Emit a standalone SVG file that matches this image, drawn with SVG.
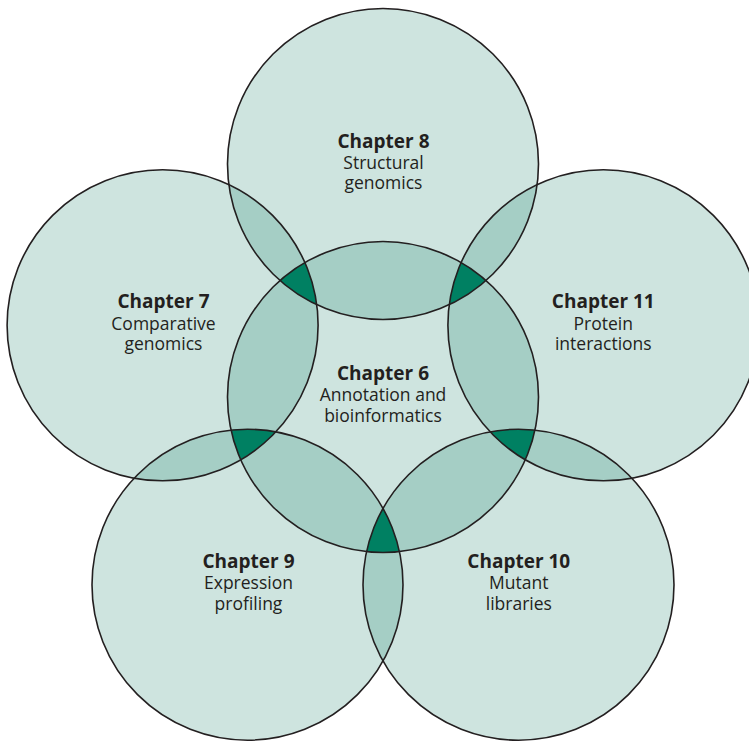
<svg xmlns="http://www.w3.org/2000/svg" xmlns:xlink="http://www.w3.org/1999/xlink" width="749" height="741" viewBox="0 0 749 741">
<style>
.base{fill:#cee4df;stroke:none}
.pair{fill:#a5cec5;stroke:none}
.tri{fill:#008062;stroke:none}
.ring{fill:none;stroke:#231f20;stroke-width:1.6}
text{font-family:"Open Sans","Noto Sans","Liberation Sans",sans-serif;font-size:17.5px;fill:#231f20;text-anchor:middle}
.t{font-weight:bold;font-size:19px}
</style>
<defs>
<circle id="c6" cx="383" cy="397" r="155.5"/>
<circle id="c7" cx="162.6" cy="325.3" r="155.5"/>
<circle id="c8" cx="383" cy="164" r="155.5"/>
<circle id="c9" cx="247.5" cy="584.7" r="155.5"/>
<circle id="c10" cx="518.5" cy="584.7" r="155.5"/>
<circle id="c11" cx="603.4" cy="325.3" r="155.5"/>
<clipPath id="k6"><use xlink:href="#c6"/></clipPath>
<clipPath id="k7"><use xlink:href="#c7"/></clipPath>
<clipPath id="k8"><use xlink:href="#c8"/></clipPath>
<clipPath id="k9"><use xlink:href="#c9"/></clipPath>
<clipPath id="k10"><use xlink:href="#c10"/></clipPath>
<clipPath id="k11"><use xlink:href="#c11"/></clipPath>
</defs>
<rect width="749" height="741" fill="#ffffff"/>
<g id="fills">
<use xlink:href="#c6" class="base"/>
<use xlink:href="#c7" class="base"/>
<use xlink:href="#c8" class="base"/>
<use xlink:href="#c9" class="base"/>
<use xlink:href="#c10" class="base"/>
<use xlink:href="#c11" class="base"/>
</g>
<g id="overlaps">
<use xlink:href="#c7" class="pair" clip-path="url(#k6)"/>
<use xlink:href="#c8" class="pair" clip-path="url(#k6)"/>
<use xlink:href="#c9" class="pair" clip-path="url(#k6)"/>
<use xlink:href="#c10" class="pair" clip-path="url(#k6)"/>
<use xlink:href="#c11" class="pair" clip-path="url(#k6)"/>
<use xlink:href="#c7" class="pair" clip-path="url(#k8)"/>
<use xlink:href="#c7" class="pair" clip-path="url(#k9)"/>
<use xlink:href="#c9" class="pair" clip-path="url(#k10)"/>
<use xlink:href="#c10" class="pair" clip-path="url(#k11)"/>
<use xlink:href="#c11" class="pair" clip-path="url(#k8)"/>
<g clip-path="url(#k6)"><use xlink:href="#c7" class="tri" clip-path="url(#k8)"/></g>
<g clip-path="url(#k6)"><use xlink:href="#c7" class="tri" clip-path="url(#k9)"/></g>
<g clip-path="url(#k6)"><use xlink:href="#c9" class="tri" clip-path="url(#k10)"/></g>
<g clip-path="url(#k6)"><use xlink:href="#c10" class="tri" clip-path="url(#k11)"/></g>
<g clip-path="url(#k6)"><use xlink:href="#c11" class="tri" clip-path="url(#k8)"/></g>
</g>
<g id="outlines">
<use xlink:href="#c6" class="ring"/>
<use xlink:href="#c7" class="ring"/>
<use xlink:href="#c8" class="ring"/>
<use xlink:href="#c9" class="ring"/>
<use xlink:href="#c10" class="ring"/>
<use xlink:href="#c11" class="ring"/>
</g>
<g id="ch6"><text class="t" x="383" y="380">Chapter 6</text><text x="383" y="401">Annotation and</text><text x="383" y="422">bioinformatics</text></g>
<g id="ch7"><text class="t" x="163.5" y="308">Chapter 7</text><text x="163.5" y="329.5">Comparative</text><text x="163.5" y="350">genomics</text></g>
<g id="ch8"><text class="t" x="383.5" y="148">Chapter 8</text><text x="383.5" y="168.5">Structural</text><text x="383.5" y="189">genomics</text></g>
<g id="ch9"><text class="t" x="248.5" y="568">Chapter 9</text><text x="248.5" y="589">Expression</text><text x="248.5" y="610">profiling</text></g>
<g id="ch10"><text class="t" x="518.8" y="568">Chapter 10</text><text x="518.8" y="589">Mutant</text><text x="518.8" y="609.5">libraries</text></g>
<g id="ch11"><text class="t" x="603.3" y="308">Chapter 11</text><text x="603.3" y="329.5">Protein</text><text x="603.3" y="350">interactions</text></g>
</svg>
